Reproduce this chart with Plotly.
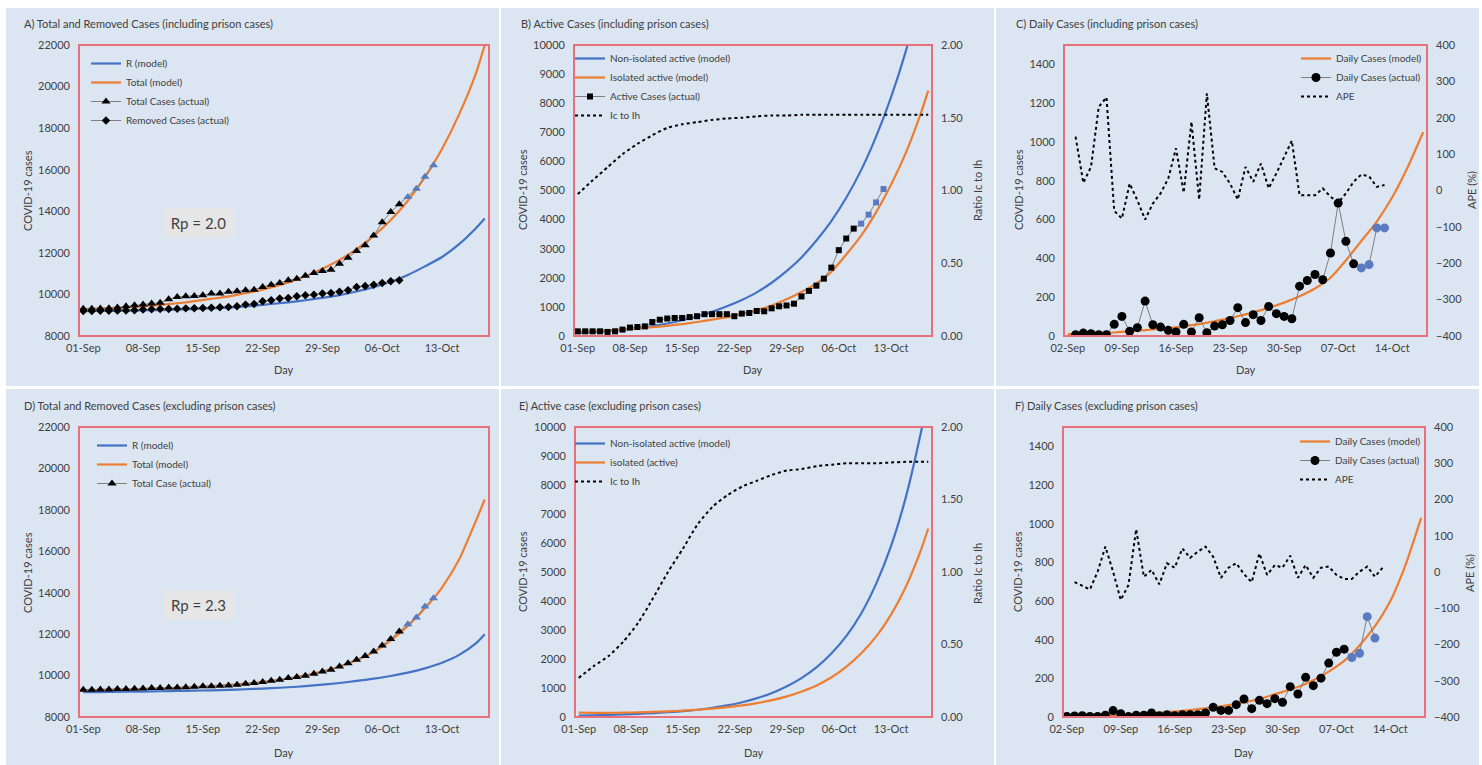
import plotly.graph_objects as go
import pandas as pd

# ---------------- DATA ----------------
start_sep1 = "2020-09-01"
start_sep2 = "2020-09-02"
start_sep3 = "2020-09-03"

tick_labels_1 = ["01-Sep", "08-Sep", "15-Sep", "22-Sep", "29-Sep", "06-Oct", "13-Oct"]
tick_labels_2 = ["02-Sep", "09-Sep", "16-Sep", "23-Sep", "30-Sep", "07-Oct", "14-Oct"]

# model day offsets (days after start date)
model_days = [0, 2, 4, 6, 8, 10, 12, 14, 16, 18, 20, 22, 24, 26, 28, 30, 32, 34, 36, 38, 40, 42, 44, 46, 47]
daily_model_days = [0, 2, 4, 6, 8, 10, 12, 14, 16, 18, 20, 22, 24, 26, 28, 30, 32, 34, 36, 38, 40, 42, 44, 46]

# A) including prison
A_R_model = [9200, 9205, 9215, 9225, 9240, 9260, 9285, 9310, 9345, 9385, 9460, 9540, 9620, 9720,
             9830, 9970, 10140, 10350, 10610, 10940, 11350, 11800, 12420, 13200, 13650]
A_total_model = [9300, 9330, 9365, 9410, 9465, 9535, 9620, 9730, 9840, 9980, 10140, 10340, 10580,
                 10870, 11230, 11660, 12180, 12820, 13580, 14510, 15640, 17000, 18660, 20670, 22000]
A_total_actual = [9316, 9316, 9320, 9340, 9370, 9430, 9480, 9520, 9560, 9600, 9770, 9880, 9910, 9930,
                  9960, 10040, 10040, 10130, 10150, 10200, 10230, 10360, 10470, 10550, 10680, 10760,
                  10900, 11030, 11130, 11190, 11480, 11760, 12090, 12370, 12830, 13470, 13970, 14340,
                  14690, 15090, 15660, 16220]
A_removed_actual = [9200, 9200, 9210, 9210, 9220, 9230, 9240, 9270, 9290, 9300, 9300, 9310, 9330, 9340,
                    9350, 9360, 9380, 9400, 9430, 9510, 9540, 9670, 9720, 9800, 9830, 9910, 9960, 9990,
                    10040, 10070, 10130, 10200, 10360, 10410, 10470, 10550, 10630, 10680]

# B) active including prison
B_nonisolated = [100, 130, 165, 210, 270, 340, 430, 540, 670, 830, 1020, 1240, 1500, 1830, 2230, 2700,
                 3280, 3950, 4750, 5700, 6850, 8200, 9800, 11700, 12800]
B_isolated = [150, 170, 195, 225, 260, 300, 350, 410, 480, 560, 650, 760, 890, 1050, 1260, 1510, 1810,
              2200, 2800, 3450, 4250, 5200, 6300, 7650, 8430]
B_ratio = [0.975, 1.07, 1.16, 1.25, 1.32, 1.38, 1.43, 1.455, 1.47, 1.485, 1.495, 1.50, 1.51, 1.515, 1.515,
           1.52, 1.52, 1.52, 1.52, 1.52, 1.52, 1.52, 1.52, 1.52, 1.52]
B_active_actual = [160, 160, 160, 160, 140, 160, 220, 290, 310, 330, 480, 560, 600, 620, 620, 650, 680,
                   750, 750, 750, 750, 680, 770, 790, 860, 850, 950, 1020, 1050, 1110, 1360, 1550, 1730,
                   1970, 2350, 2950, 3350, 3690, 3860, 4170, 4590, 5050]

# C) daily including prison (model from 02-Sep, actual & APE from 03-Sep)
C_daily_model = [10, 12, 15, 18, 24, 30, 37, 45, 56, 68, 84, 102, 122, 145, 172, 205, 245, 300, 390,
                 490, 590, 715, 870, 1050]
C_daily_actual = [7, 15, 12, 7, 7, 60, 101, 24, 43, 180, 58, 46, 29, 21, 60, 21, 94, 17, 51, 58, 80, 146,
                  69, 110, 80, 152, 115, 101, 89, 257, 286, 317, 290, 428, 685, 488, 372, 351, 368, 557, 557]
C_ape = [148, 21, 65, 230, 256, -56, -77, 19, -27, -80, -36, -8, 33, 116, -6, 189, -25, 267, 61, 51, 19,
         -25, 65, 24, 74, 6, 47, 93, 137, -13, -13, -13, 6, -17, -33, -8, 24, 44, 39, 10, 15]

# D) excluding prison
D_R_model = [9200, 9205, 9215, 9225, 9235, 9250, 9265, 9280, 9300, 9325, 9355, 9390, 9435, 9490, 9560,
             9640, 9740, 9850, 9980, 10140, 10350, 10620, 11000, 11570, 12000]
D_total_model = [9300, 9310, 9325, 9345, 9365, 9390, 9425, 9470, 9520, 9580, 9650, 9740, 9860, 10010,
                 10200, 10440, 10740, 11130, 11700, 12400, 13250, 14250, 15600, 17500, 18500]
D_total_actual = [9320, 9320, 9330, 9330, 9350, 9350, 9360, 9380, 9400, 9400, 9430, 9430, 9440, 9460,
                  9480, 9480, 9510, 9520, 9560, 9610, 9640, 9690, 9750, 9800, 9880, 9930, 9990, 10090,
                  10200, 10280, 10440, 10600, 10760, 10950, 11160, 11450, 11770, 12130, 12480, 12800,
                  13330, 13730]

# E) active excluding prison
E_nonisolated = [50, 60, 75, 90, 110, 135, 165, 200, 250, 320, 400, 510, 650, 830, 1060, 1350, 1720, 2200,
                 2800, 3580, 4600, 5900, 7600, 9800, 11100]
E_isolated = [150, 145, 145, 150, 160, 175, 195, 220, 250, 290, 340, 400, 480, 580, 710, 880, 1090, 1370,
              1740, 2200, 2780, 3530, 4500, 5750, 6500]
E_ratio = [0.27, 0.35, 0.42, 0.52, 0.65, 0.82, 1.00, 1.16, 1.33, 1.45, 1.53, 1.59, 1.63, 1.67, 1.70, 1.71,
           1.73, 1.74, 1.75, 1.75, 1.75, 1.755, 1.76, 1.76, 1.76]

# F) daily excluding prison (model & actual from 02-Sep, APE from 03-Sep)
F_daily_model = [5, 6, 8, 10, 13, 17, 22, 28, 36, 45, 55, 68, 84, 105, 130, 155, 190, 235, 290, 370, 470,
                 600, 790, 1030]
F_daily_actual = [3, 5, 7, 3, 3, 9, 33, 17, 2, 9, 9, 21, 7, 12, 7, 12, 12, 12, 21, 50, 34, 34, 64, 93, 43,
                  86, 69, 95, 76, 157, 119, 205, 162, 201, 279, 335, 351, 308, 330, 519, 408]
F_ape = [-28, -39, -48, 1, 70, 1, -77, -36, 118, -13, 6, -34, 24, 12, 65, 39, 56, 70, 42, -16, 12, 24, -6,
         -28, 51, -8, 19, 12, 45, -16, 19, -16, 12, 15, -8, -19, -19, 1, 15, -13, 12]

n_recent = 4  # last reported points drawn in blue

# ---------------- STYLE ----------------
W, H = 1482, 765
FONT = "Lato"
TXT = "#404040"
BLUE = "#4472C4"
ORANGE = "#ED7D31"
MBLUE = "#5A7BC2"
BORDER = "#E8707A"
PANEL = "#DCE6F2"
GREY = "#7F7F7F"


def fx(p):
    return p / W


def fy(p):
    return 1 - p / H


def offs(start, offsets):
    s = pd.Timestamp(start)
    return [s + pd.Timedelta(days=o) for o in offsets]


def seq(start, n):
    return list(pd.date_range(start, periods=n, freq="D"))


def mcolors(n):
    return ["black"] * (n - n_recent) + [MBLUE] * n_recent


fig = go.Figure()


def line(x, y, name, color, xa, ya, leg, dash="solid", width=2.2):
    fig.add_trace(go.Scatter(x=x, y=y, name=name, mode="lines", xaxis=xa, yaxis=ya, legend=leg,
                             line=dict(color=color, width=width, dash=dash, shape="spline", smoothing=0.6)))


def marks(x, y, name, symbol, size, xa, ya, leg):
    fig.add_trace(go.Scatter(x=x, y=y, name=name, mode="lines+markers", xaxis=xa, yaxis=ya, legend=leg,
                             line=dict(color=GREY, width=1),
                             marker=dict(symbol=symbol, size=size, color=mcolors(len(y)), line=dict(width=0))))


# A
line(offs(start_sep1, model_days), A_R_model, "R (model)", BLUE, "x", "y", "legend")
line(offs(start_sep1, model_days), A_total_model, "Total (model)", ORANGE, "x", "y", "legend")
marks(seq(start_sep1, len(A_total_actual)), A_total_actual, "Total Cases (actual)", "triangle-up", 8, "x", "y", "legend")
fig.add_trace(go.Scatter(x=seq(start_sep1, len(A_removed_actual)), y=A_removed_actual, name="Removed Cases (actual)",
                         mode="lines+markers", xaxis="x", yaxis="y", legend="legend",
                         line=dict(color=GREY, width=1), marker=dict(symbol="diamond", size=6.5, color="black")))

# B
line(offs(start_sep1, model_days), B_nonisolated, "Non-isolated active (model)", BLUE, "x2", "y2", "legend2")
line(offs(start_sep1, model_days), B_isolated, "Isolated active (model)", ORANGE, "x2", "y2", "legend2")
marks(seq(start_sep1, len(B_active_actual)), B_active_actual, "Active Cases (actual)", "square", 6, "x2", "y2", "legend2")
line(offs(start_sep1, model_days), B_ratio, "Ic to Ih", "black", "x2", "y3", "legend2", dash="dot", width=2)

# C
line(offs(start_sep2, daily_model_days), C_daily_model, "Daily Cases (model)", ORANGE, "x3", "y4", "legend3")
marks(seq(start_sep3, len(C_daily_actual)), C_daily_actual, "Daily Cases (actual)", "circle", 9, "x3", "y4", "legend3")
fig.add_trace(go.Scatter(x=seq(start_sep3, len(C_ape)), y=C_ape, name="APE", mode="lines", xaxis="x3", yaxis="y5",
                         legend="legend3", line=dict(color="black", width=2, dash="dot")))

# D
line(offs(start_sep1, model_days), D_R_model, "R (model)", BLUE, "x4", "y6", "legend4")
line(offs(start_sep1, model_days), D_total_model, "Total (model)", ORANGE, "x4", "y6", "legend4")
marks(seq(start_sep1, len(D_total_actual)), D_total_actual, "Total Case (actual)", "triangle-up", 8, "x4", "y6", "legend4")

# E
line(offs(start_sep1, model_days), E_nonisolated, "Non-isolated active (model)", BLUE, "x5", "y7", "legend5")
line(offs(start_sep1, model_days), E_isolated, "isolated (active)", ORANGE, "x5", "y7", "legend5")
line(offs(start_sep1, model_days), E_ratio, "Ic to Ih", "black", "x5", "y8", "legend5", dash="dot", width=2)

# F
line(offs(start_sep2, daily_model_days), F_daily_model, "Daily Cases (model)", ORANGE, "x6", "y9", "legend6")
marks(seq(start_sep2, len(F_daily_actual)), F_daily_actual, "Daily Cases (actual)", "circle", 9, "x6", "y9", "legend6")
fig.add_trace(go.Scatter(x=seq(start_sep3, len(F_ape)), y=F_ape, name="APE", mode="lines", xaxis="x6", yaxis="y10",
                         legend="legend6", line=dict(color="black", width=2, dash="dot")))

# ---------------- LAYOUT ----------------
tickfont = dict(family=FONT, size=11, color=TXT)

plots = {
    "1": (79, 489, 45, 336, start_sep1, tick_labels_1),
    "2": (574, 932, 45, 336, start_sep1, tick_labels_1),
    "3": (1064, 1427, 45, 336, start_sep2, tick_labels_2),
    "4": (79, 489, 427, 717, start_sep1, tick_labels_1),
    "5": (575, 932, 427, 717, start_sep1, tick_labels_1),
    "6": (1063, 1425, 427, 717, start_sep2, tick_labels_2),
}
yleft = {"1": "y", "2": "y2", "3": "y4", "4": "y6", "5": "y7", "6": "y9"}
xa_names = {"1": "x", "2": "x2", "3": "x3", "4": "x4", "5": "x5", "6": "x6"}


def xaxis_cfg(x0, x1, start, labels, anchor):
    s = pd.Timestamp(start)
    return dict(domain=[fx(x0), fx(x1)], anchor=anchor, type="date", automargin=False,
                range=[s - pd.Timedelta(hours=12), pd.Timestamp("2020-10-18") + pd.Timedelta(hours=12)],
                tickvals=[s + pd.Timedelta(days=7 * i) for i in range(len(labels))], ticktext=labels,
                showgrid=False, zeroline=False, showline=False, ticks="", tickfont=tickfont,
                ticklabelstandoff=4, fixedrange=True)


def yaxis_cfg(y0, y1, anchor, rng, tickvals, fmt="d", side="left", overlaying=None):
    d = dict(domain=[fy(y1), fy(y0)], anchor=anchor, range=rng, tickvals=tickvals, showgrid=False,
             zeroline=False, showline=False, ticks="", tickfont=tickfont, side=side, ticklabelstandoff=8,
             fixedrange=True, automargin=False, tickformat=fmt)
    if overlaying:
        d["overlaying"] = overlaying
    return d


layout = dict(width=W, height=H, margin=dict(l=0, r=0, t=0, b=0, pad=0, autoexpand=False),
              paper_bgcolor="white", plot_bgcolor="white", showlegend=True,
              font=dict(family=FONT, color=TXT))

for k, (x0, x1, y0, y1, start, labels) in plots.items():
    xname = "xaxis" if k == "1" else "xaxis" + k
    layout[xname] = xaxis_cfg(x0, x1, start, labels, yleft[k])

thousand_ticks = list(range(8000, 22001, 2000))
active_ticks = list(range(0, 10001, 1000))
daily_ticks = list(range(0, 1401, 200))
ratio_ticks = [0, 0.5, 1.0, 1.5, 2.0]
ape_ticks = list(range(-400, 401, 100))

layout["yaxis"] = yaxis_cfg(45, 336, "x", [8000, 22000], thousand_ticks)
layout["yaxis2"] = yaxis_cfg(45, 336, "x2", [0, 10000], active_ticks)
layout["yaxis3"] = yaxis_cfg(45, 336, "x2", [0, 2], ratio_ticks, fmt=".2f", side="right", overlaying="y2")
layout["yaxis4"] = yaxis_cfg(45, 336, "x3", [0, 1500], daily_ticks)
layout["yaxis5"] = yaxis_cfg(45, 336, "x3", [-400, 400], ape_ticks, side="right", overlaying="y4")
layout["yaxis6"] = yaxis_cfg(427, 717, "x4", [8000, 22000], thousand_ticks)
layout["yaxis7"] = yaxis_cfg(427, 717, "x5", [0, 10000], active_ticks)
layout["yaxis8"] = yaxis_cfg(427, 717, "x5", [0, 2], ratio_ticks, fmt=".2f", side="right", overlaying="y7")
layout["yaxis9"] = yaxis_cfg(427, 717, "x6", [0, 1500], daily_ticks)
layout["yaxis10"] = yaxis_cfg(427, 717, "x6", [-400, 400], ape_ticks, side="right", overlaying="y9")


def leg(x, y):
    return dict(x=fx(x), y=fy(y), xanchor="left", yanchor="top", bgcolor="rgba(0,0,0,0)",
                font=dict(family=FONT, size=10, color=TXT), itemwidth=30, tracegroupgap=0,
                traceorder="normal")


layout["legend"] = leg(86, 49)
layout["legend2"] = leg(570, 44)
layout["legend3"] = leg(1296, 44)
layout["legend4"] = leg(92, 431)
layout["legend5"] = leg(570, 429)
layout["legend6"] = leg(1295, 427)

# shapes: panel backgrounds and red plot borders
shapes = []
panels = [(6, 499, 8, 386), (501, 994, 8, 386), (996, 1479, 8, 386),
          (6, 499, 389, 765), (501, 994, 389, 765), (996, 1479, 389, 765)]
for (x0, x1, y0, y1) in panels:
    shapes.append(dict(type="rect", xref="paper", yref="paper", x0=fx(x0), x1=fx(x1), y0=fy(y1), y1=fy(y0),
                       fillcolor=PANEL, line=dict(width=0), layer="below"))
for k in plots:
    shapes.append(dict(type="rect", xref=xa_names[k] + " domain", yref=yleft[k] + " domain", x0=0, x1=1,
                       y0=0, y1=1, line=dict(color=BORDER, width=2), fillcolor="rgba(0,0,0,0)", layer="above"))
layout["shapes"] = shapes

# annotations
ann = []
titles = [("A) Total and Removed Cases (including prison cases)", 22, 23),
          ("B) Active Cases (including prison cases)", 519, 23),
          ("C) Daily Cases (including prison cases)", 1014, 23),
          ("D) Total and Removed Cases (excluding prison cases)", 22, 405),
          ("E) Active case (excluding prison cases)", 517, 405),
          ("F) Daily Cases (excluding prison cases)", 1013, 405)]
for t, x, y in titles:
    ann.append(dict(text=t, x=fx(x), y=fy(y), xref="paper", yref="paper", xanchor="left", yanchor="middle",
                    showarrow=False, font=dict(family=FONT, size=11, color=TXT)))

ytitles = [("COVID-19 cases", 27, 190), ("COVID-19 cases", 522, 190), ("COVID-19 cases", 1018, 190),
           ("COVID-19 cases", 27, 572), ("COVID-19 cases", 522, 572), ("COVID-19 cases", 1017, 572),
           ("Ratio Ic to Ih", 977, 190), ("APE (%)", 1471, 190),
           ("Ratio Ic to Ih", 977, 573), ("APE (%)", 1469, 573)]
for t, x, y in ytitles:
    ann.append(dict(text=t, x=fx(x), y=fy(y), xref="paper", yref="paper", xanchor="center", yanchor="middle",
                    textangle=-90, showarrow=False, font=dict(family=FONT, size=11, color=TXT)))

for (x0, x1, y0, y1, start, labels) in plots.values():
    yd = 369 if y0 < 300 else 752
    ann.append(dict(text="Day", x=fx((x0 + x1) / 2), y=fy(yd), xref="paper", yref="paper", xanchor="center",
                    yanchor="middle", showarrow=False, font=dict(family=FONT, size=11, color=TXT)))

for t, y in [("Rp = 2.0", 223), ("Rp = 2.3", 605)]:
    ann.append(dict(text=t, x=fx(198.5), y=fy(y), xref="paper", yref="paper", xanchor="center",
                    yanchor="middle", showarrow=False, bgcolor="#E7E6E6", width=67, height=26,
                    font=dict(family=FONT, size=15, color=TXT)))
layout["annotations"] = ann

fig.update_layout(**layout)
fig.write_html("out.html", config={"displayModeBar": False},
               post_script="document.body.style.margin='0';document.body.style.overflow='hidden';")
